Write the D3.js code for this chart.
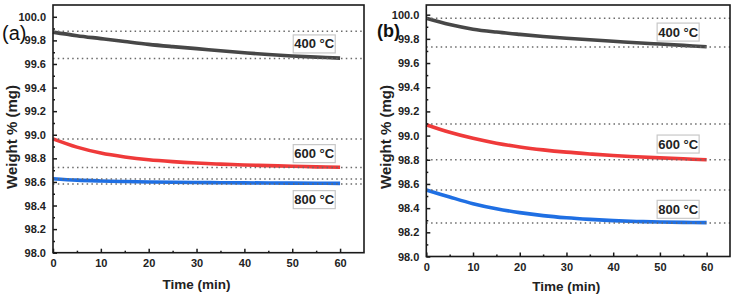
<!DOCTYPE html>
<html>
<head>
<meta charset="utf-8">
<script src="https://cdn.jsdelivr.net/npm/d3@7"></script>
<style>
  body { margin: 0; background: #fff; }
  text { font-family: "Liberation Sans", Arial, sans-serif; }
  .tick-label { font-size: 11px; font-weight: bold; fill: #222; }
  .axis-title { font-size: 13.5px; font-weight: bold; fill: #222; }
  .y-title { font-size: 15px; }
  .temp-label { font-size: 13px; font-weight: bold; fill: #222; }
</style>
</head>
<body>
<div id="chart"></div>
<script>
// time axis (min)
var times = [0, 5, 10, 15, 20, 25, 30, 35, 40, 45, 50, 55, 60];

// panel (a) weight % curves
var a400 = [99.87, 99.84, 99.815, 99.79, 99.766, 99.747, 99.73, 99.712, 99.695, 99.68, 99.668, 99.658, 99.65];
var a600 = [98.965, 98.895, 98.845, 98.812, 98.788, 98.772, 98.76, 98.751, 98.744, 98.738, 98.733, 98.728, 98.725];
var a800 = [98.627, 98.615, 98.608, 98.603, 98.600, 98.597, 98.595, 98.593, 98.592, 98.591, 98.590, 98.589, 98.588];

// panel (b) weight % curves
var b400 = [99.97, 99.918, 99.88, 99.856, 99.837, 99.82, 99.805, 99.792, 99.78, 99.768, 99.757, 99.746, 99.735];
var b600 = [99.09, 99.027, 98.977, 98.937, 98.906, 98.882, 98.863, 98.848, 98.835, 98.825, 98.816, 98.808, 98.80];
var b800 = [98.55, 98.492, 98.437, 98.395, 98.363, 98.338, 98.32, 98.307, 98.297, 98.29, 98.285, 98.282, 98.28];

// dotted reference levels (start / end of each curve)
var aRefs = [99.877, 99.647, 98.965, 98.723, 98.625, 98.582];
var bRefs = [99.97, 99.733, 99.095, 98.80, 98.55, 98.277];

var tempLabels = ["400 °C", "600 °C", "800 °C"];
var colors = ["#474747", "#ef3a3a", "#1f6fe3"];

var xTicks = [0, 10, 20, 30, 40, 50, 60];
var yTicks = [98.0, 98.2, 98.4, 98.6, 98.8, 99.0, 99.2, 99.4, 99.6, 99.8, 100.0];

var svgWidth = 736, svgHeight = 298;

var svg = d3.select("#chart")
    .append("svg")
    .attr("width", svgWidth)
    .attr("height", svgHeight);

var panels = [
    {
        name: "(a)", bold: false, nameSize: 20, nameX: 2, nameY: 40,
        left: 53, right: 364, top: 5, bottom: 252.7, yMax: 100.1,
        series: [a400, a600, a800], refs: aRefs,
        labelPos: [[54.6, 99.77], [54.6, 98.84], [54.6, 98.45]],
        yTitleX: 12, xTitleY: 289
    },
    {
        name: "(b)", bold: true, nameSize: 18, nameX: 377, nameY: 37,
        left: 426.3, right: 730, top: 5, bottom: 256.5, yMax: 100.08,
        series: [b400, b600, b800], refs: bRefs,
        labelPos: [[53.9, 99.856], [53.9, 98.93], [53.9, 98.39]],
        yTitleX: 386, xTitleY: 291
    }
];

panels.forEach(function(p) {
    var x = d3.scaleLinear().domain([0, 65]).range([p.left, p.right]);
    var y = d3.scaleLinear().domain([98, p.yMax]).range([p.bottom, p.top]);

    var g = svg.append("g");

    // curves
    var line = d3.line()
        .x(function(d) { return x(d[0]); })
        .y(function(d) { return y(d[1]); })
        .curve(d3.curveCatmullRom.alpha(0.5));

    p.series.forEach(function(vals, i) {
        g.append("path")
            .datum(times.map(function(t, j) { return [t, vals[j]]; }))
            .attr("d", line)
            .attr("fill", "none")
            .attr("stroke", colors[i])
            .attr("stroke-width", 3.6)
            .attr("stroke-linecap", "butt");
    });

    // dotted levels on top of the curves
    g.selectAll(".ref")
        .data(p.refs)
        .enter()
        .append("line")
        .attr("x1", x(0))
        .attr("x2", x(65))
        .attr("y1", function(d) { return y(d); })
        .attr("y2", function(d) { return y(d); })
        .attr("stroke", "#6a6a6a")
        .attr("stroke-width", 1.5)
        .attr("stroke-dasharray", "1.5,3.3");

    // temperature boxes
    tempLabels.forEach(function(lab, i) {
        var cx = x(p.labelPos[i][0]), cy = y(p.labelPos[i][1]);
        g.append("rect")
            .attr("x", cx - 21)
            .attr("y", cy - 9)
            .attr("width", 42)
            .attr("height", 18)
            .attr("fill", "#fff")
            .attr("stroke", "#c8c8c8")
            .attr("stroke-width", 1.2);
        g.append("text")
            .attr("class", "temp-label")
            .attr("x", cx)
            .attr("y", cy + 4.5)
            .attr("text-anchor", "middle")
            .text(lab);
    });

    // frame
    g.append("rect")
        .attr("x", p.left)
        .attr("y", p.top)
        .attr("width", p.right - p.left)
        .attr("height", p.bottom - p.top)
        .attr("fill", "none")
        .attr("stroke", "#1a1a1a")
        .attr("stroke-width", 1.6);

    // axes with inward ticks
    var xAxis = d3.axisBottom(x).tickValues(xTicks).tickSize(-4).tickPadding(7).tickFormat(d3.format("d"));
    var xMinor = d3.axisBottom(x).tickValues([5, 15, 25, 35, 45, 55]).tickSize(-2).tickFormat("");
    var yAxis = d3.axisLeft(y).tickValues(yTicks).tickSize(-4).tickPadding(7).tickFormat(d3.format(".1f"));
    var yMinor = d3.axisLeft(y).tickValues(d3.range(98.1, 100.0, 0.2)).tickSize(-2).tickFormat("");

    [[xAxis, "x"], [xMinor, "x"], [yAxis, "y"], [yMinor, "y"]].forEach(function(a) {
        var ag = g.append("g")
            .attr("transform", a[1] === "x" ? "translate(0," + p.bottom + ")" : "translate(" + p.left + ",0)")
            .call(a[0]);
        ag.select(".domain").remove();
        ag.selectAll("line").attr("stroke", "#1a1a1a").attr("stroke-width", 1.5);
        ag.selectAll("text").attr("class", "tick-label").attr("font-size", null).attr("font-family", null);
    });

    // axis titles
    g.append("text")
        .attr("class", "axis-title y-title")
        .attr("transform", "translate(" + p.yTitleX + ",137) rotate(-90)")
        .attr("dy", "0.35em")
        .attr("text-anchor", "middle")
        .text("Weight % (mg)");

    g.append("text")
        .attr("class", "axis-title")
        .attr("x", (p.left + p.right) / 2 - 12)
        .attr("y", p.xTitleY)
        .attr("text-anchor", "middle")
        .text("Time (min)");

    // panel name
    g.append("text")
        .attr("x", p.nameX)
        .attr("y", p.nameY)
        .attr("font-size", p.nameSize)
        .attr("font-weight", p.bold ? "bold" : "normal")
        .attr("fill", "#111")
        .text(p.name);
});
</script>
</body>
</html>
